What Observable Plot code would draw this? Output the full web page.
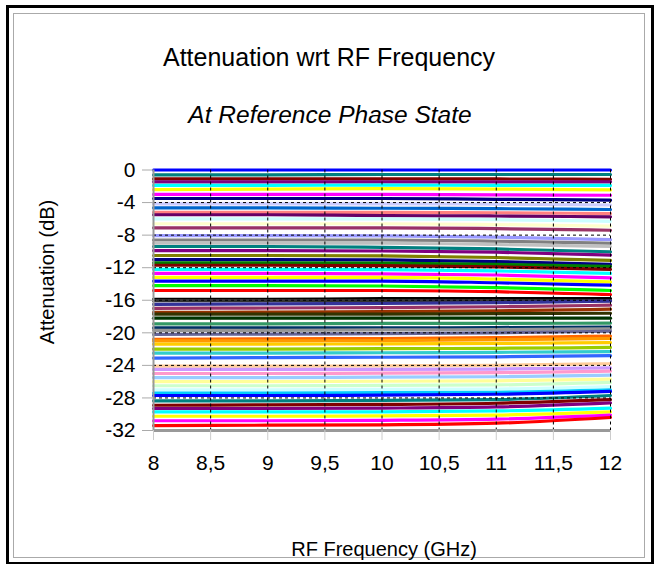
<!DOCTYPE html>
<html>
<head>
<meta charset="utf-8">
<script src="https://cdn.jsdelivr.net/npm/d3@7"></script>
<script src="https://cdn.jsdelivr.net/npm/@observablehq/plot@0.6"></script>
<style>
  html, body { margin: 0; padding: 0; background: #fff; }
  #wrap { position: relative; width: 658px; height: 564px; overflow: hidden; font-family: "Liberation Sans", Arial, sans-serif; }
  #frame { position: absolute; left: 6px; top: 5px; width: 642px; height: 554px; border: 3px solid #000; }
  #inner { position: absolute; left: 13px; top: 13px; width: 630px; height: 543px; border: 1px solid #aaa; }
  .t { position: absolute; line-height: 1; white-space: nowrap; color: #000; }
  #chart { position: absolute; left: 0; top: 0; }
</style>
</head>
<body>
<div id="wrap">
  <div id="frame"></div>
  <div id="inner"></div>
  <div id="chart"></div>
  <div class="t" id="title" style="left:0;width:658px;text-align:center;top:45px;font-size:25px;">Attenuation wrt RF Frequency</div>
  <div class="t" id="subtitle" style="left:0;width:660px;text-align:center;top:103px;font-size:24.5px;font-style:italic;">At Reference Phase State</div>
  <div class="t" id="ylab" style="left:47px;top:272px;font-size:20px;transform:translate(-50%,-50%) rotate(-90deg);">Attenuation (dB)</div>
  <div class="t" id="xlab" style="left:384px;top:539px;font-size:20px;transform:translateX(-50%);">RF Frequency (GHz)</div>
</div>
<script>
// Frequencies (GHz) at which each state is sampled
const freqs = [8, 9, 10, 11, 12];
const xTicks = [8, 8.5, 9, 9.5, 10, 10.5, 11, 11.5, 12];
const yTicks = [0, -4, -8, -12, -16, -20, -24, -28, -32];
const gridY = [-4, -8, -12, -16, -20, -24, -28];
const gridX = [8.5, 9, 9.5, 10, 10.5, 11, 11.5, 12];

// Nominal attenuation states (dB)
const states = [0, -0.5, -1, -1.5, -2, -2.5, -3, -3.5, -4, -4.5, -5, -5.5, -6, -6.5, -7, -7.5,
  -8, -8.5, -9, -9.5, -10, -10.5, -11, -11.5, -12, -12.5, -13, -13.5, -14, -14.5, -15, -15.5,
  -16, -16.5, -17, -17.5, -18, -18.5, -19, -19.5, -20, -20.5, -21, -21.5, -22, -22.5, -23, -23.5,
  -24, -24.5, -25, -25.5, -26, -26.5, -27, -27.5, -28, -28.5, -29, -29.5, -30, -30.5, -31, -31.5];

// Line colour of each state
const colors = ["#0000FF", "#008080", "#800000", "#800080", "#00FFFF", "#FFFF00", "#FF00FF", "#000080",
  "#CCCCFF", "#0066CC", "#FF8080", "#660066", "#CCFFFF", "#FFFFCC", "#993366", "#9999FF",
  "#808080", "#C0C0C0", "#008080", "#800080", "#808000", "#000080", "#008000", "#800000",
  "#00FFFF", "#FF00FF", "#FFFF00", "#0000FF", "#00FF00", "#FF0000", "#FFFFFF", "#000000",
  "#333333", "#333399", "#993366", "#993300", "#333300", "#003300", "#339966", "#003366",
  "#969696", "#666699", "#FF6600", "#FF9900", "#FFCC00", "#99CC00", "#33CCCC", "#3366FF",
  "#FFCC99", "#CC99FF", "#FF99CC", "#99CCFF", "#FFFF99", "#CCFFCC", "#CCFFFF", "#00CCFF",
  "#0000FF", "#008080", "#800000", "#800080", "#00FFFF", "#FFFF00", "#FF00FF", "#FF0000"];

// Measured attenuation (dB) of each state at 8, 9, 10, 11, 12 GHz
const atten = [
  [0, 0, 0, 0, 0],
  [-0.6, -0.6, -0.55, -0.55, -0.55],
  [-1.1, -1.1, -1.1, -1.1, -1.15],
  [-1.45, -1.45, -1.45, -1.45, -1.45],
  [-1.9, -1.9, -1.85, -1.9, -1.9],
  [-2.4, -2.35, -2.3, -2.35, -2.45],
  [-3.0, -3.0, -3.0, -3.05, -3.1],
  [-3.5, -3.5, -3.5, -3.6, -3.7],
  [-4.15, -4.15, -4.15, -4.2, -4.3],
  [-4.65, -4.65, -4.7, -4.75, -4.85],
  [-5.2, -5.2, -5.2, -5.25, -5.35],
  [-5.5, -5.5, -5.6, -5.65, -5.75],
  [-6.0, -6.0, -6.0, -6.1, -6.3],
  [-6.6, -6.6, -6.6, -6.7, -6.9],
  [-7.1, -7.1, -7.1, -7.2, -7.4],
  [-8.05, -8.05, -8.1, -8.25, -8.55],
  [-8.6, -8.6, -8.6, -8.75, -9.0],
  [-9.0, -9.0, -9.0, -9.15, -9.4],
  [-9.4, -9.4, -9.5, -9.7, -10.05],
  [-9.9, -9.9, -9.95, -10.1, -10.45],
  [-10.5, -10.5, -10.55, -10.75, -11.1],
  [-11.0, -11.0, -11.05, -11.25, -11.6],
  [-11.4, -11.4, -11.45, -11.6, -11.85],
  [-11.7, -11.7, -11.75, -11.9, -12.2],
  [-12.2, -12.2, -12.25, -12.4, -12.7],
  [-12.7, -12.7, -12.75, -12.9, -13.25],
  [-13.2, -13.2, -13.2, -13.4, -13.75],
  [-13.65, -13.65, -13.65, -13.85, -14.15],
  [-14.2, -14.2, -14.25, -14.45, -14.8],
  [-14.8, -14.8, -14.8, -14.95, -15.3],
  [-15.3, -15.3, -15.3, -15.45, -15.7],
  [-15.9, -15.9, -15.8, -15.8, -15.8],
  [-16.05, -16.05, -16.05, -16.05, -16.05],
  [-16.5, -16.45, -16.4, -16.3, -16.1],
  [-17.0, -16.95, -16.9, -16.8, -16.6],
  [-17.5, -17.45, -17.4, -17.3, -17.1],
  [-17.7, -17.7, -17.7, -17.65, -17.6],
  [-18.2, -18.2, -18.2, -18.2, -18.2],
  [-18.9, -18.9, -18.85, -18.85, -18.8],
  [-19.4, -19.4, -19.4, -19.35, -19.3],
  [-19.7, -19.7, -19.65, -19.6, -19.5],
  [-20.2, -20.15, -20.1, -20.0, -19.8],
  [-20.8, -20.75, -20.7, -20.6, -20.4],
  [-21.0, -21.0, -20.95, -20.85, -20.7],
  [-21.4, -21.4, -21.35, -21.3, -21.2],
  [-22.0, -22.0, -21.95, -21.9, -21.8],
  [-22.5, -22.5, -22.45, -22.4, -22.3],
  [-23.1, -23.05, -23.0, -22.95, -22.8],
  [-24.1, -24.1, -24.05, -24.0, -23.8],
  [-24.5, -24.5, -24.5, -24.45, -24.3],
  [-25.0, -25.0, -24.95, -24.9, -24.7],
  [-25.5, -25.5, -25.45, -25.4, -25.2],
  [-26.0, -26.0, -25.95, -25.9, -25.7],
  [-26.5, -26.5, -26.45, -26.4, -26.1],
  [-27.0, -27.0, -26.95, -26.9, -26.6],
  [-27.4, -27.4, -27.35, -27.3, -27.0],
  [-27.7, -27.7, -27.65, -27.55, -27.2],
  [-28.35, -28.35, -28.3, -28.2, -27.7],
  [-28.9, -28.85, -28.8, -28.65, -28.2],
  [-29.3, -29.3, -29.25, -29.1, -28.6],
  [-29.7, -29.7, -29.7, -29.6, -29.25],
  [-30.25, -30.25, -30.2, -30.1, -29.7],
  [-30.8, -30.8, -30.75, -30.6, -30.1],
  [-31.4, -31.35, -31.3, -31.1, -30.4]
];

const rows = [];
states.forEach((s, i) => {
  freqs.forEach((f, j) => rows.push({state: s, freq: f, att: atten[i][j], color: colors[i]}));
});

const chart = Plot.plot({
  width: 658,
  height: 564,
  marginLeft: 153,
  marginRight: 48,
  marginTop: 169.5,
  marginBottom: 134,
  x: {domain: [8, 12]},
  y: {domain: [-32, 0]},
  color: {type: "identity"},
  style: {fontFamily: "'Liberation Sans', Arial, sans-serif", fontSize: "21px", background: "transparent", overflow: "visible", color: "#000"},
  marks: [
    Plot.line(rows, {x: "freq", y: "att", z: "state", stroke: "color", strokeWidth: 3.2, curve: "monotone-x"}),
    Plot.ruleY(gridY, {stroke: "#000", strokeWidth: 1, strokeDasharray: "3,3"}),
    Plot.ruleX(gridX, {stroke: "#000", strokeWidth: 1, strokeDasharray: "3,3"}),
    Plot.ruleX([8], {stroke: "#999", strokeWidth: 2}),
    Plot.ruleY([-32], {stroke: "#999", strokeWidth: 3}),
    Plot.axisY({ticks: yTicks, tickSize: 11, tickPadding: 7, stroke: "#aaa", fill: "#000", tickFormat: d => String(d), label: null}),
    Plot.axisX({ticks: xTicks, tickSize: 10, tickPadding: 15, stroke: "#ccc", fill: "#000", tickFormat: d => String(d).replace(".", ","), label: null})
  ]
});
document.getElementById("chart").appendChild(chart);
</script>
</body>
</html>
